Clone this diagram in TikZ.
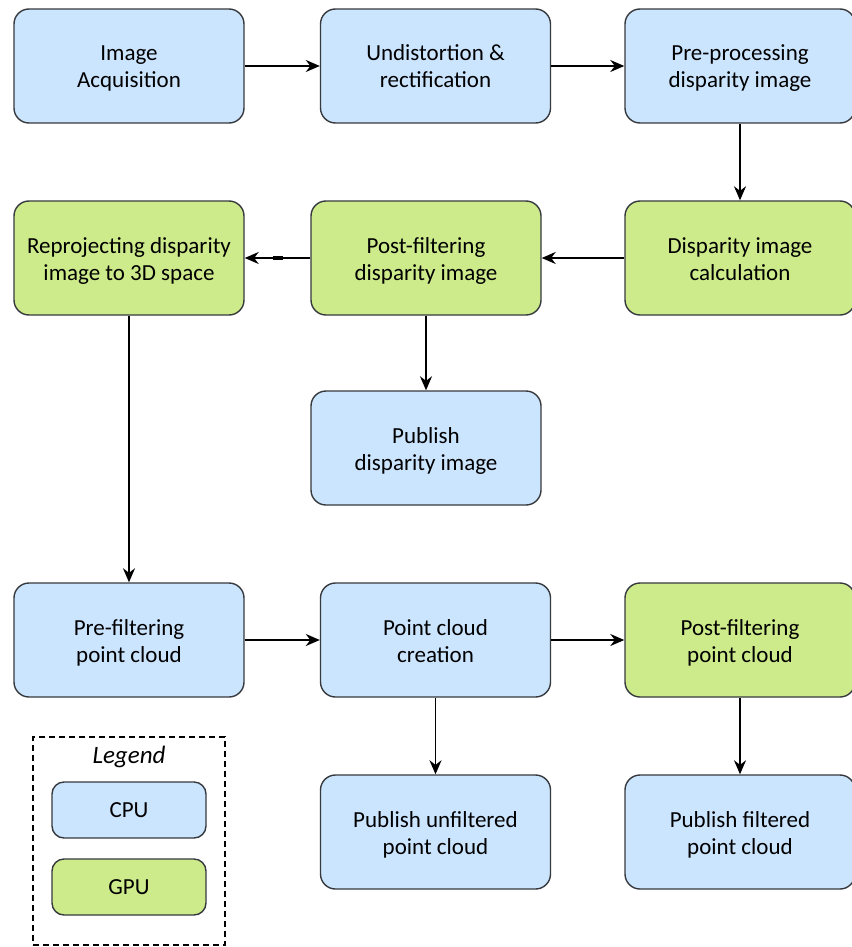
\documentclass[tikz,border=0pt]{standalone}
\usepackage{fontspec}
\setmainfont{Carlito}
\usetikzlibrary{arrows.meta}
\definecolor{cpufill}{HTML}{CCE5FF}
\definecolor{gpufill}{HTML}{CDEB8B}
\definecolor{boxline}{HTML}{36393D}
\begin{document}
\begin{tikzpicture}[x=1pt,y=-1pt,
  stage/.style={draw=boxline,line width=1.4pt,rounded corners=15pt,
    minimum width=230pt,minimum height=114pt,align=center,
    font=\fontsize{23}{27}\selectfont,inner sep=0pt,
    text height=44pt,text depth=0pt},
  cpu/.style={stage,fill=cpufill},
  gpu/.style={stage,fill=gpufill},
  legbox/.style={draw=boxline,line width=1.4pt,rounded corners=12pt,
    minimum width=154pt,minimum height=56pt,font=\fontsize{23}{27}\selectfont,inner sep=0pt},
  flow/.style={-{Stealth[length=14pt,width=12pt]},line width=1.8pt}]
\useasboundingbox (0,0) rectangle (851,947);
% row 1
\node[cpu] (acq) at (129,66) {Image\\Acquisition};
\node[cpu] (und) at (435.5,66) {Undistortion \&\\rectification};
\node[cpu] (pre) at (740,66) {Pre-processing\\disparity image};
% row 2
\node[gpu] (rep) at (129,258) {Reprojecting disparity\\image to 3D space};
\node[gpu] (pfd) at (426,258) {Post-filtering\\disparity image};
\node[gpu] (dic) at (740,258) {Disparity image\\calculation};
\node[cpu] (pub) at (426,448) {Publish\\disparity image};
% row 3
\node[cpu] (pfp) at (129,640) {Pre-filtering\\point cloud};
\node[cpu] (pcc) at (435.5,640) {Point cloud\\creation};
\node[gpu] (pof) at (740,640) {Post-filtering\\point cloud};
% row 4
\node[cpu] (puu) at (435.5,832) {Publish unfiltered\\point cloud};
\node[cpu] (puf) at (740,832) {Publish filtered\\point cloud};
% connectors
\draw[flow] (acq) -- (und);
\draw[flow] (und) -- (pre);
\draw[flow] (pre) -- (dic);
\draw[flow] (dic) -- (pfd);
\draw[flow] (pfd) -- (rep);
\draw[line width=3.4pt] (273,258) -- (283,258);
\draw[flow] (pfd) -- (pub);
\draw[flow] (rep) -- (pfp);
\draw[flow] (pfp) -- (pcc);
\draw[flow] (pcc) -- (pof);
\draw[flow] (pcc) -- (puu);
\draw[flow] (pof) -- (puf);
% legend
\node[draw,dash pattern=on 6pt off 4pt,line width=1.4pt,minimum width=192pt,minimum height=208pt,inner sep=0pt] (leg) at (129,841) {};
\node[font=\fontsize{25}{29}\selectfont\itshape] (legt) at (129,757) {Legend};
\node[legbox,fill=cpufill] (lcpu) at (129,810) {CPU};
\node[legbox,fill=gpufill] (lgpu) at (129,887) {GPU};
\end{tikzpicture}
\end{document}
